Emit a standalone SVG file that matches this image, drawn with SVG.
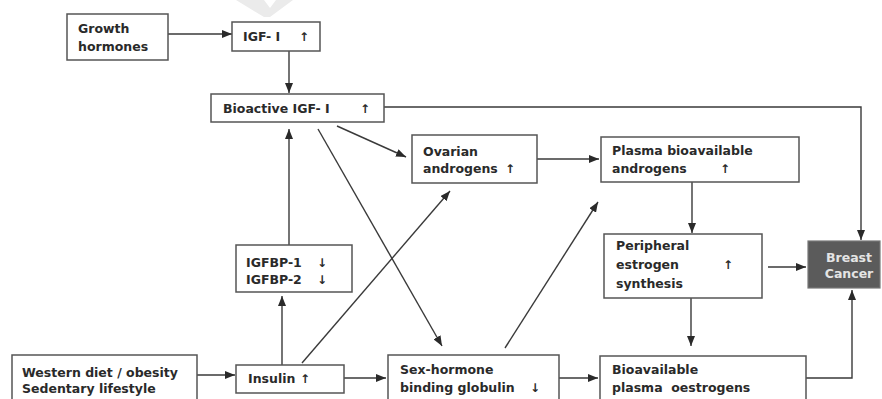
<svg xmlns="http://www.w3.org/2000/svg" width="882" height="399" viewBox="0 0 882 399">
<style>
.box{fill:#fff;stroke:#555;stroke-width:1.5}
.t{font-family:"DejaVu Sans","Liberation Sans",sans-serif;font-weight:bold;font-size:12.5px;fill:#2a2a2a;white-space:pre}
.ar{font-family:"DejaVu Sans",sans-serif;font-weight:bold;font-size:12px;fill:#2a2a2a}
.c{fill:none;stroke:#3a3a3a;stroke-width:1.4;marker-end:url(#ah)}
.bc{fill:#5b5b5b;stroke:#777;stroke-width:1.2}
.wt{font-family:"DejaVu Sans","Liberation Sans",sans-serif;font-weight:bold;font-size:12.5px;fill:#e4e4e4;text-anchor:middle}
</style>
<defs>
<marker id="ah" markerUnits="userSpaceOnUse" markerWidth="10" markerHeight="8" refX="10" refY="4" orient="auto">
<path d="M0,0 L10,4 L0,8 z" fill="#2a2a2a"/>
</marker>
</defs>
<rect width="882" height="399" fill="#fff"/>
<polygon points="236,0 264,0 270,8 276,0 293,0 270,17 264,17" fill="#ebebeb"/>
<g id="connectors">
<line class="c" x1="168" y1="34" x2="232" y2="34"/>
<line class="c" x1="289" y1="51" x2="289" y2="93"/>
<path class="c" d="M384,107 H861 V240"/>
<line class="c" x1="337" y1="126" x2="406" y2="157"/>
<line class="c" x1="318" y1="129" x2="442" y2="346"/>
<line class="c" x1="537" y1="159" x2="599" y2="159"/>
<line class="c" x1="692" y1="182" x2="692" y2="233"/>
<line class="c" x1="768" y1="267" x2="806" y2="267"/>
<line class="c" x1="289" y1="245" x2="289" y2="129"/>
<line class="c" x1="282" y1="365" x2="282" y2="296"/>
<line class="c" x1="302" y1="363" x2="450" y2="191"/>
<line class="c" x1="197" y1="375" x2="235" y2="375"/>
<line class="c" x1="344" y1="378" x2="386" y2="378"/>
<line class="c" x1="505" y1="348" x2="598" y2="202"/>
<line class="c" x1="559" y1="378" x2="598" y2="378"/>
<line class="c" x1="691" y1="298" x2="691" y2="346"/>
<path class="c" d="M806,378 H852 V290"/>
</g>
<g id="growth">
<rect class="box" x="67" y="14" width="101" height="46"/>
<text class="t" x="78" y="33">Growth</text>
<text class="t" x="78" y="51">hormones</text>
</g>
<g id="igf">
<rect class="box" x="232" y="22" width="88" height="29"/>
<text class="t" x="243" y="41">IGF- I</text>
<text class="ar" x="299" y="41">↑</text>
</g>
<g id="bioactive">
<rect class="box" x="211" y="94" width="173" height="28"/>
<text class="t" x="223" y="113">Bioactive IGF- I</text>
<text class="ar" x="360" y="113">↑</text>
</g>
<g id="ovarian">
<rect class="box" x="412" y="135" width="125" height="48"/>
<text class="t" x="423" y="156">Ovarian</text>
<text class="t" x="423" y="173">androgens</text>
<text class="ar" x="505" y="173">↑</text>
</g>
<g id="plasma">
<rect class="box" x="601" y="137" width="198" height="45"/>
<text class="t" x="612" y="155">Plasma bioavailable</text>
<text class="t" x="612" y="173">androgens</text>
<text class="ar" x="720" y="173">↑</text>
</g>
<g id="peripheral">
<rect class="box" x="604" y="234" width="158" height="64"/>
<text class="t" x="616" y="250">Peripheral</text>
<text class="t" x="616" y="269">estrogen</text>
<text class="t" x="616" y="288">synthesis</text>
<text class="ar" x="723" y="269">↑</text>
</g>
<g id="breast">
<rect class="bc" x="808" y="241" width="72" height="47"/>
<text class="wt" x="849" y="262">Breast</text>
<text class="wt" x="849" y="278">Cancer</text>
</g>
<g id="igfbp">
<rect class="box" x="236" y="245" width="116" height="47"/>
<text class="t" x="246" y="267">IGFBP-1</text>
<text class="t" x="246" y="284">IGFBP-2</text>
<text class="ar" x="317" y="267">↓</text>
<text class="ar" x="317" y="284">↓</text>
</g>
<g id="western">
<rect class="box" x="12" y="355" width="185" height="50"/>
<text class="t" x="22" y="377">Western diet / obesity</text>
<text class="t" x="22" y="393">Sedentary lifestyle</text>
</g>
<g id="insulin">
<rect class="box" x="236" y="365" width="108" height="28"/>
<text class="t" x="248" y="383">Insulin</text>
<text class="ar" x="300" y="383">↑</text>
</g>
<g id="shbg">
<rect class="box" x="388" y="355" width="171" height="50"/>
<text class="t" x="400" y="374">Sex-hormone</text>
<text class="t" x="400" y="392">binding globulin</text>
<text class="ar" x="530" y="392">↓</text>
</g>
<g id="bioavail">
<rect class="box" x="600" y="356" width="206" height="50"/>
<text class="t" x="612" y="374">Bioavailable</text>
<text class="t" x="612" y="392">plasma  oestrogens</text>
</g>
</svg>
